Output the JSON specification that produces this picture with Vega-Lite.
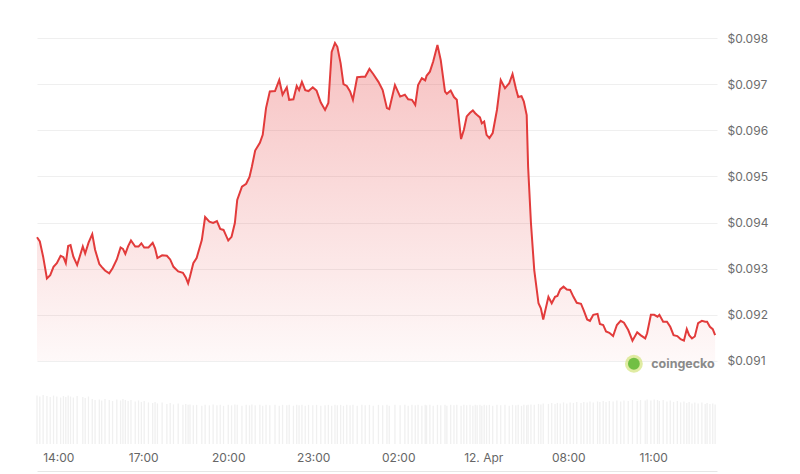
{
  "$schema": "https://vega.github.io/schema/vega-lite/v6.json",
  "width": 680,
  "height": 406,
  "autosize": {"type": "none"},
  "padding": {"left": 37, "top": 38, "right": 83, "bottom": 30},
  "background": "#ffffff",
  "view": {"stroke": null},
  "config": {"font": "Inter"},
  "data": {
    "values": [
      {"t": "2024-04-11T13:15:00Z", "price": 0.09368, "volume": 0.99},
      {"t": "2024-04-11T13:21:00Z", "price": 0.09359, "volume": 0.97},
      {"t": "2024-04-11T13:28:00Z", "price": 0.09326, "volume": 1.0},
      {"t": "2024-04-11T13:36:00Z", "price": 0.09279, "volume": 0.98},
      {"t": "2024-04-11T13:43:00Z", "price": 0.09286, "volume": 0.96},
      {"t": "2024-04-11T13:50:00Z", "price": 0.09304, "volume": 0.99},
      {"t": "2024-04-11T13:57:00Z", "price": 0.09312, "volume": 0.97},
      {"t": "2024-04-11T14:05:00Z", "price": 0.09328, "volume": 0.95},
      {"t": "2024-04-11T14:11:00Z", "price": 0.09325, "volume": 0.98},
      {"t": "2024-04-11T14:16:00Z", "price": 0.09312, "volume": 0.96},
      {"t": "2024-04-11T14:21:00Z", "price": 0.09349, "volume": 0.99},
      {"t": "2024-04-11T14:26:00Z", "price": 0.09351, "volume": 0.97},
      {"t": "2024-04-11T14:32:00Z", "price": 0.09326, "volume": 0.95},
      {"t": "2024-04-11T14:40:00Z", "price": 0.09308, "volume": 0.98},
      {"t": "2024-04-11T14:52:00Z", "price": 0.09348, "volume": 0.96},
      {"t": "2024-04-11T14:57:00Z", "price": 0.09333, "volume": 0.94},
      {"t": "2024-04-11T15:04:00Z", "price": 0.09356, "volume": 0.97},
      {"t": "2024-04-11T15:12:00Z", "price": 0.09375, "volume": 0.92},
      {"t": "2024-04-11T15:18:00Z", "price": 0.09341, "volume": 0.9},
      {"t": "2024-04-11T15:27:00Z", "price": 0.0931, "volume": 0.91},
      {"t": "2024-04-11T15:32:00Z", "price": 0.09304, "volume": 0.89},
      {"t": "2024-04-11T15:39:00Z", "price": 0.09296, "volume": 0.92},
      {"t": "2024-04-11T15:48:00Z", "price": 0.0929, "volume": 0.9},
      {"t": "2024-04-11T15:55:00Z", "price": 0.09301, "volume": 0.88},
      {"t": "2024-04-11T16:04:00Z", "price": 0.0932, "volume": 0.91},
      {"t": "2024-04-11T16:12:00Z", "price": 0.09346, "volume": 0.89},
      {"t": "2024-04-11T16:17:00Z", "price": 0.09343, "volume": 0.92},
      {"t": "2024-04-11T16:22:00Z", "price": 0.09332, "volume": 0.9},
      {"t": "2024-04-11T16:28:00Z", "price": 0.09349, "volume": 0.88},
      {"t": "2024-04-11T16:34:00Z", "price": 0.09361, "volume": 0.9},
      {"t": "2024-04-11T16:43:00Z", "price": 0.09348, "volume": 0.87},
      {"t": "2024-04-11T16:50:00Z", "price": 0.09348, "volume": 0.89},
      {"t": "2024-04-11T16:56:00Z", "price": 0.09355, "volume": 0.86},
      {"t": "2024-04-11T17:02:00Z", "price": 0.09346, "volume": 0.88},
      {"t": "2024-04-11T17:11:00Z", "price": 0.09346, "volume": 0.85},
      {"t": "2024-04-11T17:20:00Z", "price": 0.09356, "volume": 0.84},
      {"t": "2024-04-11T17:25:00Z", "price": 0.09344, "volume": 0.86},
      {"t": "2024-04-11T17:30:00Z", "price": 0.09323, "volume": 0.83},
      {"t": "2024-04-11T17:40:00Z", "price": 0.09329, "volume": 0.85},
      {"t": "2024-04-11T17:50:00Z", "price": 0.09328, "volume": 0.82},
      {"t": "2024-04-11T17:57:00Z", "price": 0.0932, "volume": 0.84},
      {"t": "2024-04-11T18:04:00Z", "price": 0.09304, "volume": 0.81},
      {"t": "2024-04-11T18:14:00Z", "price": 0.09294, "volume": 0.83},
      {"t": "2024-04-11T18:24:00Z", "price": 0.09291, "volume": 0.8},
      {"t": "2024-04-11T18:30:00Z", "price": 0.09281, "volume": 0.82},
      {"t": "2024-04-11T18:35:00Z", "price": 0.09268, "volume": 0.8},
      {"t": "2024-04-11T18:39:00Z", "price": 0.09283, "volume": 0.81},
      {"t": "2024-04-11T18:46:00Z", "price": 0.09312, "volume": 0.79},
      {"t": "2024-04-11T18:53:00Z", "price": 0.09323, "volume": 0.8},
      {"t": "2024-04-11T19:04:00Z", "price": 0.09362, "volume": 0.78},
      {"t": "2024-04-11T19:11:00Z", "price": 0.09412, "volume": 0.8},
      {"t": "2024-04-11T19:20:00Z", "price": 0.09402, "volume": 0.79},
      {"t": "2024-04-11T19:28:00Z", "price": 0.09399, "volume": 0.81},
      {"t": "2024-04-11T19:36:00Z", "price": 0.09403, "volume": 0.79},
      {"t": "2024-04-11T19:43:00Z", "price": 0.09386, "volume": 0.8},
      {"t": "2024-04-11T19:50:00Z", "price": 0.09384, "volume": 0.78},
      {"t": "2024-04-11T20:00:00Z", "price": 0.09361, "volume": 0.8},
      {"t": "2024-04-11T20:07:00Z", "price": 0.09369, "volume": 0.79},
      {"t": "2024-04-11T20:14:00Z", "price": 0.09399, "volume": 0.81},
      {"t": "2024-04-11T20:19:00Z", "price": 0.09449, "volume": 0.8},
      {"t": "2024-04-11T20:29:00Z", "price": 0.09478, "volume": 0.78},
      {"t": "2024-04-11T20:38:00Z", "price": 0.09484, "volume": 0.8},
      {"t": "2024-04-11T20:45:00Z", "price": 0.09499, "volume": 0.79},
      {"t": "2024-04-11T20:50:00Z", "price": 0.09521, "volume": 0.81},
      {"t": "2024-04-11T20:57:00Z", "price": 0.09556, "volume": 0.79},
      {"t": "2024-04-11T21:07:00Z", "price": 0.09573, "volume": 0.8},
      {"t": "2024-04-11T21:13:00Z", "price": 0.0959, "volume": 0.78},
      {"t": "2024-04-11T21:20:00Z", "price": 0.09648, "volume": 0.8},
      {"t": "2024-04-11T21:28:00Z", "price": 0.09684, "volume": 0.79},
      {"t": "2024-04-11T21:39:00Z", "price": 0.09685, "volume": 0.8},
      {"t": "2024-04-11T21:48:00Z", "price": 0.09709, "volume": 0.78},
      {"t": "2024-04-11T21:55:00Z", "price": 0.09677, "volume": 0.8},
      {"t": "2024-04-11T22:04:00Z", "price": 0.09693, "volume": 0.79},
      {"t": "2024-04-11T22:09:00Z", "price": 0.09666, "volume": 0.8},
      {"t": "2024-04-11T22:18:00Z", "price": 0.09667, "volume": 0.78},
      {"t": "2024-04-11T22:25:00Z", "price": 0.09696, "volume": 0.8},
      {"t": "2024-04-11T22:30:00Z", "price": 0.09687, "volume": 0.79},
      {"t": "2024-04-11T22:36:00Z", "price": 0.09705, "volume": 0.8},
      {"t": "2024-04-11T22:43:00Z", "price": 0.09687, "volume": 0.78},
      {"t": "2024-04-11T22:50:00Z", "price": 0.09685, "volume": 0.8},
      {"t": "2024-04-11T22:59:00Z", "price": 0.09693, "volume": 0.79},
      {"t": "2024-04-11T23:07:00Z", "price": 0.09686, "volume": 0.8},
      {"t": "2024-04-11T23:16:00Z", "price": 0.0966, "volume": 0.78},
      {"t": "2024-04-11T23:25:00Z", "price": 0.09644, "volume": 0.79},
      {"t": "2024-04-11T23:32:00Z", "price": 0.09659, "volume": 0.8},
      {"t": "2024-04-11T23:39:00Z", "price": 0.0977, "volume": 0.78},
      {"t": "2024-04-11T23:46:00Z", "price": 0.09789, "volume": 0.8},
      {"t": "2024-04-11T23:51:00Z", "price": 0.09781, "volume": 0.79},
      {"t": "2024-04-11T23:58:00Z", "price": 0.09745, "volume": 0.8},
      {"t": "2024-04-12T00:04:00Z", "price": 0.097, "volume": 0.78},
      {"t": "2024-04-12T00:11:00Z", "price": 0.09696, "volume": 0.8},
      {"t": "2024-04-12T00:18:00Z", "price": 0.09684, "volume": 0.79},
      {"t": "2024-04-12T00:24:00Z", "price": 0.09666, "volume": 0.8},
      {"t": "2024-04-12T00:33:00Z", "price": 0.09715, "volume": 0.78},
      {"t": "2024-04-12T00:43:00Z", "price": 0.09716, "volume": 0.8},
      {"t": "2024-04-12T00:50:00Z", "price": 0.09716, "volume": 0.79},
      {"t": "2024-04-12T00:59:00Z", "price": 0.09733, "volume": 0.8},
      {"t": "2024-04-12T01:07:00Z", "price": 0.09722, "volume": 0.78},
      {"t": "2024-04-12T01:18:00Z", "price": 0.09705, "volume": 0.8},
      {"t": "2024-04-12T01:27:00Z", "price": 0.09687, "volume": 0.79},
      {"t": "2024-04-12T01:36:00Z", "price": 0.09648, "volume": 0.8},
      {"t": "2024-04-12T01:41:00Z", "price": 0.09646, "volume": 0.78},
      {"t": "2024-04-12T01:53:00Z", "price": 0.09698, "volume": 0.8},
      {"t": "2024-04-12T02:04:00Z", "price": 0.09673, "volume": 0.79},
      {"t": "2024-04-12T02:14:00Z", "price": 0.09677, "volume": 0.8},
      {"t": "2024-04-12T02:21:00Z", "price": 0.09667, "volume": 0.78},
      {"t": "2024-04-12T02:29:00Z", "price": 0.09666, "volume": 0.8},
      {"t": "2024-04-12T02:36:00Z", "price": 0.09655, "volume": 0.79},
      {"t": "2024-04-12T02:42:00Z", "price": 0.09698, "volume": 0.8},
      {"t": "2024-04-12T02:50:00Z", "price": 0.09713, "volume": 0.78},
      {"t": "2024-04-12T02:57:00Z", "price": 0.09708, "volume": 0.8},
      {"t": "2024-04-12T03:00:00Z", "price": 0.09718, "volume": 0.79},
      {"t": "2024-04-12T03:07:00Z", "price": 0.09727, "volume": 0.8},
      {"t": "2024-04-12T03:14:00Z", "price": 0.09749, "volume": 0.78},
      {"t": "2024-04-12T03:23:00Z", "price": 0.09785, "volume": 0.8},
      {"t": "2024-04-12T03:30:00Z", "price": 0.09752, "volume": 0.79},
      {"t": "2024-04-12T03:39:00Z", "price": 0.09684, "volume": 0.8},
      {"t": "2024-04-12T03:43:00Z", "price": 0.09679, "volume": 0.78},
      {"t": "2024-04-12T03:51:00Z", "price": 0.09686, "volume": 0.8},
      {"t": "2024-04-12T03:58:00Z", "price": 0.09672, "volume": 0.79},
      {"t": "2024-04-12T04:04:00Z", "price": 0.09666, "volume": 0.8},
      {"t": "2024-04-12T04:13:00Z", "price": 0.09581, "volume": 0.78},
      {"t": "2024-04-12T04:19:00Z", "price": 0.09601, "volume": 0.8},
      {"t": "2024-04-12T04:25:00Z", "price": 0.0963, "volume": 0.79},
      {"t": "2024-04-12T04:32:00Z", "price": 0.09638, "volume": 0.8},
      {"t": "2024-04-12T04:38:00Z", "price": 0.09643, "volume": 0.78},
      {"t": "2024-04-12T04:43:00Z", "price": 0.09637, "volume": 0.8},
      {"t": "2024-04-12T04:47:00Z", "price": 0.09633, "volume": 0.79},
      {"t": "2024-04-12T04:53:00Z", "price": 0.09628, "volume": 0.8},
      {"t": "2024-04-12T04:57:00Z", "price": 0.09615, "volume": 0.78},
      {"t": "2024-04-12T05:02:00Z", "price": 0.09619, "volume": 0.8},
      {"t": "2024-04-12T05:07:00Z", "price": 0.0959, "volume": 0.79},
      {"t": "2024-04-12T05:13:00Z", "price": 0.09583, "volume": 0.8},
      {"t": "2024-04-12T05:20:00Z", "price": 0.09594, "volume": 0.78},
      {"t": "2024-04-12T05:29:00Z", "price": 0.09644, "volume": 0.8},
      {"t": "2024-04-12T05:37:00Z", "price": 0.09709, "volume": 0.79},
      {"t": "2024-04-12T05:46:00Z", "price": 0.09691, "volume": 0.8},
      {"t": "2024-04-12T05:55:00Z", "price": 0.09702, "volume": 0.78},
      {"t": "2024-04-12T06:02:00Z", "price": 0.09722, "volume": 0.8},
      {"t": "2024-04-12T06:09:00Z", "price": 0.09691, "volume": 0.79},
      {"t": "2024-04-12T06:14:00Z", "price": 0.09672, "volume": 0.8},
      {"t": "2024-04-12T06:21:00Z", "price": 0.09674, "volume": 0.78},
      {"t": "2024-04-12T06:26:00Z", "price": 0.09662, "volume": 0.8},
      {"t": "2024-04-12T06:32:00Z", "price": 0.09633, "volume": 0.79},
      {"t": "2024-04-12T06:35:00Z", "price": 0.09521, "volume": 0.8},
      {"t": "2024-04-12T06:41:00Z", "price": 0.09399, "volume": 0.81},
      {"t": "2024-04-12T06:48:00Z", "price": 0.09297, "volume": 0.8},
      {"t": "2024-04-12T06:57:00Z", "price": 0.09225, "volume": 0.82},
      {"t": "2024-04-12T07:02:00Z", "price": 0.09214, "volume": 0.81},
      {"t": "2024-04-12T07:07:00Z", "price": 0.0919, "volume": 0.83},
      {"t": "2024-04-12T07:18:00Z", "price": 0.09239, "volume": 0.82},
      {"t": "2024-04-12T07:25:00Z", "price": 0.09225, "volume": 0.84},
      {"t": "2024-04-12T07:32:00Z", "price": 0.09239, "volume": 0.82},
      {"t": "2024-04-12T07:37:00Z", "price": 0.09241, "volume": 0.84},
      {"t": "2024-04-12T07:43:00Z", "price": 0.09255, "volume": 0.83},
      {"t": "2024-04-12T07:50:00Z", "price": 0.09261, "volume": 0.85},
      {"t": "2024-04-12T07:57:00Z", "price": 0.09255, "volume": 0.83},
      {"t": "2024-04-12T08:04:00Z", "price": 0.09254, "volume": 0.85},
      {"t": "2024-04-12T08:11:00Z", "price": 0.09239, "volume": 0.84},
      {"t": "2024-04-12T08:18:00Z", "price": 0.09226, "volume": 0.86},
      {"t": "2024-04-12T08:27:00Z", "price": 0.09224, "volume": 0.84},
      {"t": "2024-04-12T08:33:00Z", "price": 0.09209, "volume": 0.86},
      {"t": "2024-04-12T08:40:00Z", "price": 0.0919, "volume": 0.85},
      {"t": "2024-04-12T08:46:00Z", "price": 0.09187, "volume": 0.87},
      {"t": "2024-04-12T08:53:00Z", "price": 0.092, "volume": 0.85},
      {"t": "2024-04-12T09:02:00Z", "price": 0.09202, "volume": 0.87},
      {"t": "2024-04-12T09:07:00Z", "price": 0.0918, "volume": 0.86},
      {"t": "2024-04-12T09:14:00Z", "price": 0.09178, "volume": 0.88},
      {"t": "2024-04-12T09:20:00Z", "price": 0.09164, "volume": 0.86},
      {"t": "2024-04-12T09:27:00Z", "price": 0.09161, "volume": 0.88},
      {"t": "2024-04-12T09:35:00Z", "price": 0.09154, "volume": 0.87},
      {"t": "2024-04-12T09:43:00Z", "price": 0.09178, "volume": 0.89},
      {"t": "2024-04-12T09:51:00Z", "price": 0.09187, "volume": 0.87},
      {"t": "2024-04-12T09:58:00Z", "price": 0.09183, "volume": 0.89},
      {"t": "2024-04-12T10:07:00Z", "price": 0.09167, "volume": 0.88},
      {"t": "2024-04-12T10:16:00Z", "price": 0.09144, "volume": 0.9},
      {"t": "2024-04-12T10:26:00Z", "price": 0.09162, "volume": 0.88},
      {"t": "2024-04-12T10:33:00Z", "price": 0.09156, "volume": 0.9},
      {"t": "2024-04-12T10:43:00Z", "price": 0.09149, "volume": 0.89},
      {"t": "2024-04-12T10:47:00Z", "price": 0.0916, "volume": 0.91},
      {"t": "2024-04-12T10:55:00Z", "price": 0.092, "volume": 0.89},
      {"t": "2024-04-12T11:02:00Z", "price": 0.092, "volume": 0.91},
      {"t": "2024-04-12T11:09:00Z", "price": 0.09196, "volume": 0.9},
      {"t": "2024-04-12T11:13:00Z", "price": 0.092, "volume": 0.88},
      {"t": "2024-04-12T11:21:00Z", "price": 0.09185, "volume": 0.9},
      {"t": "2024-04-12T11:29:00Z", "price": 0.09185, "volume": 0.87},
      {"t": "2024-04-12T11:36:00Z", "price": 0.09174, "volume": 0.89},
      {"t": "2024-04-12T11:43:00Z", "price": 0.09156, "volume": 0.86},
      {"t": "2024-04-12T11:51:00Z", "price": 0.09154, "volume": 0.88},
      {"t": "2024-04-12T11:58:00Z", "price": 0.09147, "volume": 0.85},
      {"t": "2024-04-12T12:05:00Z", "price": 0.09144, "volume": 0.87},
      {"t": "2024-04-12T12:11:00Z", "price": 0.09169, "volume": 0.84},
      {"t": "2024-04-12T12:16:00Z", "price": 0.09156, "volume": 0.86},
      {"t": "2024-04-12T12:22:00Z", "price": 0.09149, "volume": 0.83},
      {"t": "2024-04-12T12:28:00Z", "price": 0.09153, "volume": 0.85},
      {"t": "2024-04-12T12:35:00Z", "price": 0.09182, "volume": 0.83},
      {"t": "2024-04-12T12:43:00Z", "price": 0.09187, "volume": 0.85},
      {"t": "2024-04-12T12:50:00Z", "price": 0.09185, "volume": 0.82},
      {"t": "2024-04-12T12:54:00Z", "price": 0.09185, "volume": 0.84},
      {"t": "2024-04-12T13:00:00Z", "price": 0.09174, "volume": 0.82},
      {"t": "2024-04-12T13:06:00Z", "price": 0.09169, "volume": 0.83},
      {"t": "2024-04-12T13:11:00Z", "price": 0.09156, "volume": 0.81}
    ]
  },
  "layer": [
    {
      "mark": {"type": "bar", "width": 1.3, "color": "#f0f0f0"},
      "encoding": {
        "x": {"field": "t", "type": "temporal"},
        "y": {
          "field": "volume",
          "type": "quantitative",
          "scale": {"domain": [0, 8.3], "nice": false},
          "axis": null
        }
      }
    },
    {
      "layer": [
        {
          "mark": {
            "type": "area",
            "color": {
              "gradient": "linear",
              "x1": 0, "y1": 0, "x2": 0, "y2": 1,
              "stops": [
                {"offset": 0, "color": "rgba(229,62,62,0.32)"},
                {"offset": 1, "color": "rgba(229,62,62,0.03)"}
              ]
            }
          },
          "encoding": {
            "x": {
              "field": "t",
              "type": "temporal",
              "scale": {
                "type": "utc",
                "padding": 0,
                "domain": [
                  {"year": 2024, "month": 4, "date": 11, "hours": 13, "minutes": 15, "utc": true},
                  {"year": 2024, "month": 4, "date": 12, "hours": 13, "minutes": 15, "utc": true}
                ]
              },
              "axis": {
                "title": null,
                "orient": "bottom",
                "offset": 27,
                "domain": true,
                "domainColor": "#e6e6e6",
                "ticks": false,
                "grid": false,
                "labelPadding": -14,
                "labelBaseline": "middle",
                "labelColor": "#666666",
                "labelFontSize": 12,
                "labelFlush": false,
                "labelOverlap": false,
                "values": [
                  {"year": 2024, "month": 4, "date": 11, "hours": 14, "utc": true},
                  {"year": 2024, "month": 4, "date": 11, "hours": 17, "utc": true},
                  {"year": 2024, "month": 4, "date": 11, "hours": 20, "utc": true},
                  {"year": 2024, "month": 4, "date": 11, "hours": 23, "utc": true},
                  {"year": 2024, "month": 4, "date": 12, "hours": 2, "utc": true},
                  {"year": 2024, "month": 4, "date": 12, "hours": 5, "utc": true},
                  {"year": 2024, "month": 4, "date": 12, "hours": 8, "utc": true},
                  {"year": 2024, "month": 4, "date": 12, "hours": 11, "utc": true}
                ],
                "labelExpr": "utcFormat(datum.value, '%H') == '05' ? '12. Apr' : utcFormat(datum.value, '%H:%M')"
              }
            },
            "y": {
              "field": "price",
              "type": "quantitative",
              "scale": {"domain": [0.0892, 0.098], "zero": false, "nice": false},
              "axis": {
                "title": null,
                "orient": "right",
                "values": [0.091, 0.092, 0.093, 0.094, 0.095, 0.096, 0.097, 0.098],
                "labelExpr": "'$' + format(datum.value, '.3f')",
                "grid": true,
                "gridColor": "#efefef",
                "domain": false,
                "ticks": false,
                "labelPadding": 10,
                "labelColor": "#6d6d6d",
                "labelFontSize": 12
              }
            },
            "y2": {"datum": 0.091}
          }
        },
        {
          "mark": {"type": "line", "color": "#e23b3b", "strokeWidth": 2},
          "encoding": {
            "x": {"field": "t", "type": "temporal"},
            "y": {"field": "price", "type": "quantitative"}
          }
        },
        {
          "data": {"values": [{}]},
          "mark": {"type": "point", "filled": true, "size": 320, "color": "#d3e47c"},
          "encoding": {
            "x": {"datum": {"year": 2024, "month": 4, "date": 12, "hours": 10, "minutes": 19, "utc": true}, "type": "temporal"},
            "y": {"datum": 0.09094, "type": "quantitative"}
          }
        },
        {
          "data": {"values": [{}]},
          "mark": {"type": "point", "filled": true, "size": 140, "color": "#72bf44", "opacity": 1},
          "encoding": {
            "x": {"datum": {"year": 2024, "month": 4, "date": 12, "hours": 10, "minutes": 19, "utc": true}, "type": "temporal"},
            "y": {"datum": 0.09094, "type": "quantitative"}
          }
        },
        {
          "data": {"values": [{}]},
          "mark": {"type": "text", "text": "coingecko", "fontSize": 12.5, "fontWeight": "bold", "color": "#8a8a8a", "align": "center", "baseline": "middle"},
          "encoding": {
            "x": {"datum": {"year": 2024, "month": 4, "date": 12, "hours": 12, "minutes": 3, "utc": true}, "type": "temporal"},
            "y": {"datum": 0.09094, "type": "quantitative"}
          }
        }
      ]
    }
  ],
  "resolve": {"scale": {"y": "independent"}}
}
